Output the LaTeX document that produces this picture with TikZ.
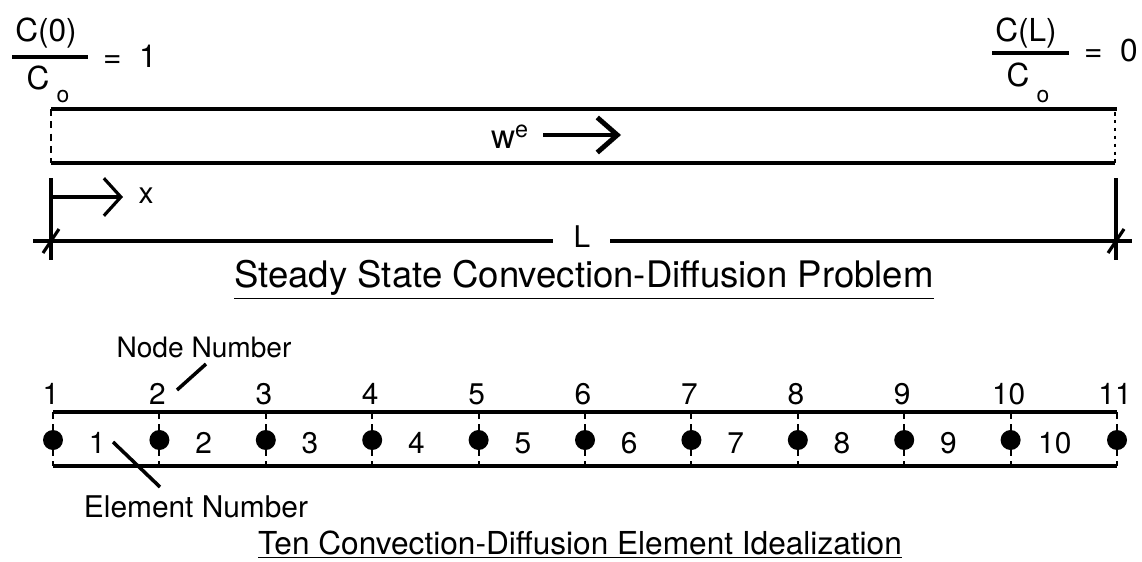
\documentclass[tikz,border=0pt]{standalone}
\usepackage{fontspec}
\setmainfont{TeX Gyre Heros}
\usetikzlibrary{arrows.meta,positioning,calc}

\begin{document}
\begin{tikzpicture}[
  x=0.02cm, y=-0.02cm,
  lbl/.style={font=\fontsize{16}{19}\selectfont, inner sep=0pt},
  num/.style={font=\fontsize{17}{20}\selectfont, inner sep=0pt},
  ttl/.style={font=\fontsize{18}{21}\selectfont, inner sep=0pt},
  frac/.style={font=\fontsize{18}{21}\selectfont, inner sep=0pt},
  sub/.style={font=\fontsize{13}{15}\selectfont, inner sep=0pt},
  wall/.style={line width=1.8pt},
  cut/.style={line width=1.2pt, dash pattern=on 4pt off 3pt},
  dot/.style={circle, fill=black, inner sep=0pt, minimum size=0.4cm},
  lead/.style={line width=2pt},
  flow/.style={line width=2.8pt, -{Straight Barb[length=4mm, width=7mm, line width=2.8pt]}},
  xdir/.style={line width=1.8pt, -{Straight Barb[length=3.4mm, width=7.5mm, line width=1.8pt]}}
]
\useasboundingbox (0,0) rectangle (1142,561);

% boundary values
\node[frac] (c0num) at (46,33) {C(0)};
\coordinate (c0barL) at (12,57);
\coordinate (c0barR) at (88,57);
\draw[wall] (c0barL) -- (c0barR);
\node[frac] (c0den) at (38,78) {C};
\node[sub] (c0sub) at (63,97) {o};
\node[frac] (c0val) at (130,56) {=\ \ 1};

\node[frac] (cLnum) at (1026,33) {C(L)};
\coordinate (cLbarL) at (992,53);
\coordinate (cLbarR) at (1069,53);
\draw[wall] (cLbarL) -- (cLbarR);
\node[frac] (cLden) at (1018,75) {C};
\node[sub] (cLsub) at (1043,97) {o};
\node[frac] (cLval) at (1111,51) {=\ \ 0};

% tube
\coordinate (tTL) at (51,109);
\coordinate (tTR) at (1117,109);
\coordinate (tBL) at (51,163);
\coordinate (tBR) at (1115,163);
\draw[wall] (tTL) -- (tTR);
\draw[wall] (tBL) -- (tBR);
\draw[cut] (tTL) -- (tBL);
\draw[line width=1.6pt, dash pattern=on 2pt off 2.5pt] (1115,112) -- (tBR);

\node[font=\fontsize{19}{22}\selectfont, inner sep=0pt] (we) at (510,137) {w\textsuperscript{e}};
\coordinate (weStart) at (543,135);
\coordinate (weEnd) at (621,135);
\draw[flow] (weStart) -- (weEnd);

% x direction and length
\coordinate (xO) at (51,197);
\coordinate (xEnd) at (123,197);
\draw[wall] (51,178) -- (51,260);
\draw[wall] (1116,178) -- (1116,260);
\draw[xdir] (xO) -- (xEnd);
\node[num] (xlab) at (146,196) {x};

\node[num] (Llab) at (582,237) {L};
\coordinate (Lleft) at (33,241);
\coordinate (Lright) at (1132,241);
\draw[wall] (Lleft) -- (553,241);
\draw[wall] (610,241) -- (Lright);
\draw[wall] (43,253) -- (59,229);
\draw[wall] (1108,253) -- (1124,229);

\node[font=\fontsize{20.8}{24}\selectfont, inner sep=0pt] (title1) at (584,280) {\underline{Steady State Convection-Diffusion Problem}};

% element idealization
\node[lbl] (nodenum) at (204,347) {Node Number};
\coordinate (nnA) at (206,364);
\coordinate (nnB) at (177,390);
\draw[lead] (nnA) -- (nnB);

\coordinate (sTL) at (53,412);
\coordinate (sTR) at (1117,412);
\coordinate (sBL) at (53,466);
\coordinate (sBR) at (1117,466);
\draw[wall] (sTL) -- (sTR);
\draw[wall] (sBL) -- (sBR);

\foreach \i in {1,...,11} {
  \pgfmathsetmacro\xx{53+106.4*(\i-1)}
  \draw[cut] (\xx,412) -- (\xx,466);
  \node[dot] (n\i) at (\xx,440) {};
  \node[num] (nl\i) at (\xx-2,394) {\i};
}
\foreach \i [count=\j from 2] in {1,...,10} {
  \path (n\i) -- (n\j) coordinate[pos=0.5] (m\i);
  \node[num] (el\i) at ($(m\i)+(-9,3)$) {\i};
}

\coordinate (enA) at (113,442);
\coordinate (enB) at (160,487);
\draw[lead] (enA) -- (enB);
\node[num] (elemnum) at (196,507) {Element Number};

\node[ttl] (title2) at (580,545) {\underline{Ten Convection-Diffusion Element Idealization}};
\end{tikzpicture}
\end{document}
